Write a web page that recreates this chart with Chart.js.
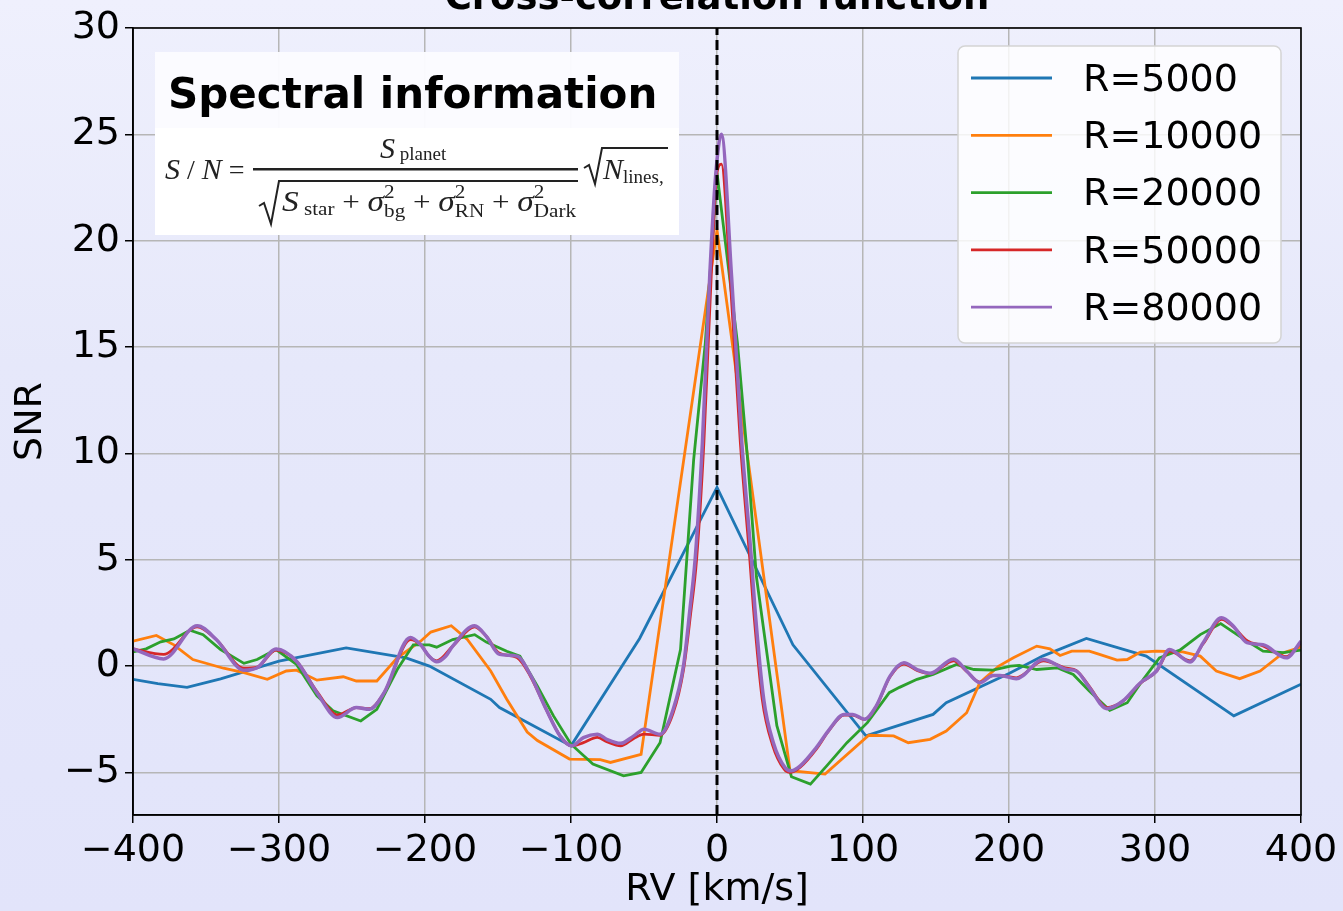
<!DOCTYPE html>
<html>
<head>
<meta charset="utf-8">
<script src="https://cdn.jsdelivr.net/npm/chart.js@4.4.1/dist/chart.umd.min.js"></script>
<style>
  html, body { margin: 0; padding: 0; }
  body { width: 1343px; height: 911px; overflow: hidden;
         background: linear-gradient(#eff0fd, #e6e8fa 40%, #e2e4fa); }
</style>
</head>
<body>
<canvas id="ccf" width="1343" height="911"></canvas>
<script>
// axis ticks
const xTicks = [-400, -300, -200, -100, 0, 100, 200, 300, 400];
const yTicks = [-5, 0, 5, 10, 15, 20, 25, 30];
const yMin = -7, yMax = 30;

const seriesLabels = ['R=5000', 'R=10000', 'R=20000', 'R=50000', 'R=80000'];
const seriesColors = ['#1f77b4', '#ff7f0e', '#2ca02c', '#d62728', '#9467bd'];

// R=5000
const rv5000  = [-400, -383, -363, -340, -300, -254, -213, -197, -155, -149, -100, -53, 0, 52, 102, 148, 157, 200, 223, 253, 294, 354, 400];
const snr5000 = [-0.62, -0.82, -1.0, -0.6, 0.23, 0.86, 0.39, 0.0, -1.56, -1.95, -3.75, 1.3, 8.4, 1.0, -3.28, -2.27, -1.72, -0.35, 0.47, 1.3, 0.47, -2.34, -0.85];

// R=10000
const rv10000  = [-400, -384, -372, -359, -338, -324, -308, -295, -288, -274, -256, -247, -233, -219, -203, -196, -182, -171, -155, -144, -130, -123, -101, -80, -73, -52, 0,
                  50, 74, 104, 121, 131, 146, 157, 171, 180, 193, 203, 219, 228, 235, 243, 255, 262, 274, 281, 290, 301, 319, 331, 342, 358, 372, 388, 400];
const snr10000 = [1.17, 1.44, 1.0, 0.31, -0.1, -0.31, -0.62, -0.23, -0.19, -0.66, -0.5, -0.7, -0.7, 0.39, 1.17, 1.6, 1.9, 1.25, -0.23, -1.56, -3.1, -3.5, -4.37, -4.4, -4.53, -4.15, 20.5,
                  -4.92, -5.08, -3.25, -3.28, -3.6, -3.44, -3.05, -2.19, -0.78, 0.0, 0.39, 0.94, 0.81, 0.5, 0.7, 0.7, 0.55, 0.28, 0.31, 0.66, 0.7, 0.67, 0.47, -0.23, -0.59, -0.23, 0.63, 0.9];

// R=20000
const rv20000  = [-400, -391, -381, -372, -361, -352, -340, -324, -315, -302, -288, -274, -263, -244, -233, -219, -208, -197, -192, -181, -166, -158, -144, -135, -123, -112, -100, -85, -64, -52, -39, -25, -16, -8, 0,
                  14, 21, 27, 41, 51, 64, 75, 89, 103, 118, 125, 137, 148, 164, 176, 189, 201, 207, 219, 233, 244, 255, 269, 281, 292, 303, 317, 331, 345, 358, 374, 388, 400];
const snr20000 = [0.67, 0.81, 1.14, 1.28, 1.69, 1.48, 0.78, 0.13, 0.31, 0.78, 0.08, -1.4, -2.1, -2.58, -2.03, -0.16, 1.0, 1.0, 0.89, 1.25, 1.48, 1.13, 0.7, 0.47, -0.94, -2.34, -3.67, -4.6, -5.16, -5.0, -3.6, 0.78, 9.7, 15.2, 23.2,
                  15.2, 9.7, 4.2, -2.8, -5.2, -5.55, -4.7, -3.6, -2.66, -1.25, -1.0, -0.62, -0.39, 0.08, -0.16, -0.19, 0.0, 0.03, -0.16, -0.08, -0.39, -1.17, -2.08, -1.72, -0.62, 0.39, 0.75, 1.48, 2.0, 1.4, 0.7, 0.63, 0.75];

// R=50000
const rv50000  = [-400, -379, -356, -343, -324, -315, -302, -288, -274, -260, -247, -238, -228, -210, -203, -197, -192, -181, -166, -158, -149, -137, -128, -117, -107.5, -99.5, -91.5, -82, -75.5, -66, -57, -50, -39, -30, -23, -18, -14, -9, -4, 0, 3,
                  9, 16, 22.5, 25, 31, 38, 46, 50, 57, 68, 77, 87, 93, 101, 109, 118.5, 128, 137, 146, 162, 171, 180, 189, 194, 205, 223.5, 239.5, 246, 255, 267, 278, 290, 301, 310, 324, 333, 345.6, 353.6, 363, 374, 390, 400];
const snr50000 = [0.81, 0.55, 1.85, 1.25, -0.1, -0.05, 0.75, 0.23, -1.2, -2.3, -1.95, -2.0, -1.25, 1.25, 1.0, 0.45, 0.25, 0.94, 1.85, 1.4, 0.6, 0.4, -0.45, -2.03, -3.28, -3.75, -3.6, -3.35, -3.55, -3.75, -3.4, -3.2, -3.25, -2.2, -0.2, 2.5, 5.0, 10.5, 18.3, 23.2, 23.6,
                  18.3, 10.5, 5.0, 2.7, -1.56, -3.7, -4.85, -5.0, -4.75, -3.9, -3.0, -2.3, -2.3, -2.5, -1.9, -0.5, 0.1, -0.2, -0.35, 0.25, -0.25, -0.75, -0.45, -0.45, -0.55, 0.25, -0.1, -0.2, -0.95, -1.95, -1.65, -0.8, -0.25, 0.7, 0.25, 1.05, 2.2, 1.85, 1.2, 0.95, 0.45, 1.1];

// R=80000
const rv80000  = [-400, -379, -356, -343, -324, -315, -302, -288, -274, -260, -247, -238, -228, -210, -203, -197, -192, -186, -181, -166, -158, -149, -137, -128, -117, -107.5, -99.5, -91.5, -82, -75.5, -66, -57, -50, -39, -30, -23, -18.5, -15, -10, -5, -1, 3,
                  10, 17, 23.6, 26, 32, 38.6, 46.6, 51, 57, 68, 77, 87, 93, 101, 109, 118.5, 128, 137, 146, 162, 171, 180, 189, 194, 205, 223.5, 239.5, 246, 255, 267, 278, 290, 301, 310, 324, 333, 345.6, 353.6, 363, 374, 390, 400];
const snr80000 = [0.81, 0.34, 1.9, 1.25, -0.19, -0.08, 0.81, 0.23, -1.25, -2.42, -1.95, -2.03, -1.25, 1.35, 1.0, 0.45, 0.2, 0.45, 0.94, 1.9, 1.4, 0.55, 0.47, -0.39, -2.03, -3.28, -3.75, -3.36, -3.2, -3.44, -3.63, -3.28, -2.97, -3.2, -2.03, 0.0, 2.7, 5.0, 10.5, 18.3, 23.0, 25.0,
                  18.3, 10.5, 5.0, 2.7, -1.56, -3.6, -4.77, -4.92, -4.69, -3.83, -2.97, -2.27, -2.27, -2.5, -1.88, -0.47, 0.16, -0.16, -0.34, 0.34, -0.23, -0.78, -0.44, -0.44, -0.59, 0.31, -0.16, -0.23, -1.0, -2.0, -1.64, -0.78, -0.23, 0.78, 0.19, 1.1, 2.27, 1.88, 1.1, 1.0, 0.39, 1.17];

const allRv  = [rv5000, rv10000, rv20000, rv50000, rv80000];
const allSnr = [snr5000, snr10000, snr20000, snr50000, snr80000];

const FONT = '"DejaVu Sans", sans-serif';
const minus = v => String(v).replace('-', '\u2212');

const datasets = seriesLabels.map((lab, i) => ({
    label: lab,
    data: allRv[i].map((x, k) => ({ x: x, y: allSnr[i][k] })),
    borderColor: seriesColors[i],
    borderWidth: i === 4 ? 3.5 : 2.8,
    pointRadius: 0,
    fill: false,
    cubicInterpolationMode: i >= 3 ? 'monotone' : 'default',
    tension: 0,
    order: 5 - i
}));
// vertical line at RV = 0
datasets.push({
    label: 'rv0',
    data: [{ x: 0, y: yMin }, { x: 0, y: yMax }],
    borderColor: '#000',
    borderWidth: 3,
    borderDash: [10, 5],
    pointRadius: 0,
    order: 0
});

// draws a row of text pieces, returns the end x (dry = measure only)
function drawRun(ctx, parts, x, y, dry) {
    parts.forEach(p => {
        ctx.font = p.f;
        if (!dry) ctx.fillText(p.t, x, y + (p.dy || 0));
        if (!p.stay) x += ctx.measureText(p.t).width;
    });
    return x;
}

const it = 'italic 30px "Liberation Serif", serif';
const rm = '28px "Liberation Serif", serif';
const sm = '19px "Liberation Serif", serif';
const sigma = (sub) => [{ t: ' + ', f: rm }, { t: '\u03c3', f: it }, { t: '2', f: sm, dy: -13, stay: true }, { t: sub, f: sm, dy: 6 }];
const denomParts = [{ t: 'S', f: it }, { t: ' star', f: sm, dy: 4 }].concat(sigma('bg'), sigma('RN'), sigma('Dark'));

// inset with the S/N formula
const insetPlugin = {
    id: 'inset',
    afterDraw(chart) {
        const ctx = chart.ctx;
        ctx.save();
        ctx.fillStyle = 'rgba(251,251,255,0.97)';
        ctx.fillRect(155, 52, 524, 77);
        ctx.fillStyle = '#ffffff';
        ctx.fillRect(155, 128, 524, 107);

        ctx.fillStyle = '#000';
        ctx.textBaseline = 'alphabetic';
        ctx.textAlign = 'left';
        ctx.font = 'bold 42px ' + FONT;
        ctx.fillText('Spectral information', 168, 108);

        ctx.fillStyle = '#222';
        ctx.strokeStyle = '#222';
        drawRun(ctx, [{ t: 'S', f: it }, { t: ' / ', f: rm }, { t: 'N', f: it }, { t: ' =', f: rm }], 165, 179);
        ctx.fillRect(253, 168, 325, 2.5);
        drawRun(ctx, [{ t: 'S', f: it }, { t: ' planet', f: sm, dy: 2 }], 380, 158);
        // denominator radical
        ctx.lineWidth = 2;
        ctx.beginPath();
        ctx.moveTo(259, 206); ctx.lineTo(264, 203); ctx.lineTo(271, 224); ctx.lineTo(279, 181); ctx.lineTo(578, 181);
        ctx.stroke();
        const w = drawRun(ctx, denomParts, 0, 0, true);
        ctx.save();
        ctx.translate(282, 211);
        ctx.scale(294 / w, 1);
        drawRun(ctx, denomParts, 0, 0);
        ctx.restore();
        // sqrt(N_lines)
        ctx.beginPath();
        ctx.moveTo(584, 168); ctx.lineTo(589, 165); ctx.lineTo(595, 184); ctx.lineTo(602, 148); ctx.lineTo(668, 148);
        ctx.stroke();
        drawRun(ctx, [{ t: 'N', f: it }, { t: 'lines,', f: sm, dy: 4 }], 603, 179);
        ctx.restore();
    }
};

// legend box, frame and title
const decorPlugin = {
    id: 'decor',
    afterDraw(chart) {
        const ctx = chart.ctx;
        const a = chart.chartArea;
        ctx.save();
        // axes frame
        ctx.strokeStyle = '#000';
        ctx.lineWidth = 1.6;
        ctx.strokeRect(a.left, a.top, a.right - a.left, a.bottom - a.top);

        // title (cut by the top edge)
        ctx.fillStyle = '#000';
        ctx.font = 'bold 37px ' + FONT;
        ctx.textAlign = 'center';
        ctx.textBaseline = 'alphabetic';
        ctx.fillText('Cross-correlation function', (a.left + a.right) / 2, 9);

        // legend
        const bx = a.right - 343, by = a.top + 18, bw = 323, bh = 297;
        ctx.fillStyle = 'rgba(255,255,255,0.82)';
        ctx.strokeStyle = '#d4d4d4';
        ctx.lineWidth = 1.5;
        ctx.beginPath();
        ctx.roundRect(bx, by, bw, bh, 7);
        ctx.fill();
        ctx.stroke();
        ctx.font = '38px ' + FONT;
        ctx.textAlign = 'left';
        ctx.textBaseline = 'middle';
        chart.data.datasets.filter(d => d.label.startsWith('R=')).forEach((d, i) => {
            const y = by + 32 + i * 57.3;
            ctx.strokeStyle = d.borderColor;
            ctx.lineWidth = 2.8;
            ctx.beginPath();
            ctx.moveTo(bx + 13, y);
            ctx.lineTo(bx + 94, y);
            ctx.stroke();
            ctx.fillStyle = '#000';
            ctx.fillText(d.label, bx + 125, y + 3);
        });
        ctx.restore();
    }
};

const gridStyle = { color: '#b6b6b6', lineWidth: 1.5, tickColor: '#000', tickLength: 8, tickWidth: 1.5 };

new Chart(document.getElementById('ccf'), {
    type: 'line',
    data: { datasets: datasets },
    options: {
        responsive: false,
        animation: false,
        layout: { padding: { top: 28, right: 42, left: 0, bottom: 0 } },
        plugins: { legend: { display: false }, tooltip: { enabled: false } },
        scales: {
            x: {
                type: 'linear', min: -400, max: 400,
                afterBuildTicks: s => { s.ticks = xTicks.map(v => ({ value: v })); },
                afterFit: s => { s.height = 96; },
                ticks: { callback: v => minus(v), color: '#000', font: { family: FONT, size: 38 }, padding: 5, maxRotation: 0, autoSkip: false },
                grid: gridStyle,
                border: { color: '#000', width: 1.6 },
                title: { display: true, text: 'RV [km/s]', color: '#000', font: { family: FONT, size: 38 }, padding: { top: 0, bottom: -2 } }
            },
            y: {
                type: 'linear', min: yMin, max: yMax,
                afterBuildTicks: s => { s.ticks = yTicks.map(v => ({ value: v })); },
                afterFit: s => { s.width = 133; },
                ticks: { callback: v => minus(v), color: '#000', font: { family: FONT, size: 38 }, padding: 5 },
                grid: gridStyle,
                border: { color: '#000', width: 1.6 },
                title: { display: true, text: 'SNR', color: '#000', font: { family: FONT, size: 38 }, padding: { top: 8, bottom: 0 } }
            }
        }
    },
    plugins: [insetPlugin, decorPlugin]
});
</script>
</body>
</html>
